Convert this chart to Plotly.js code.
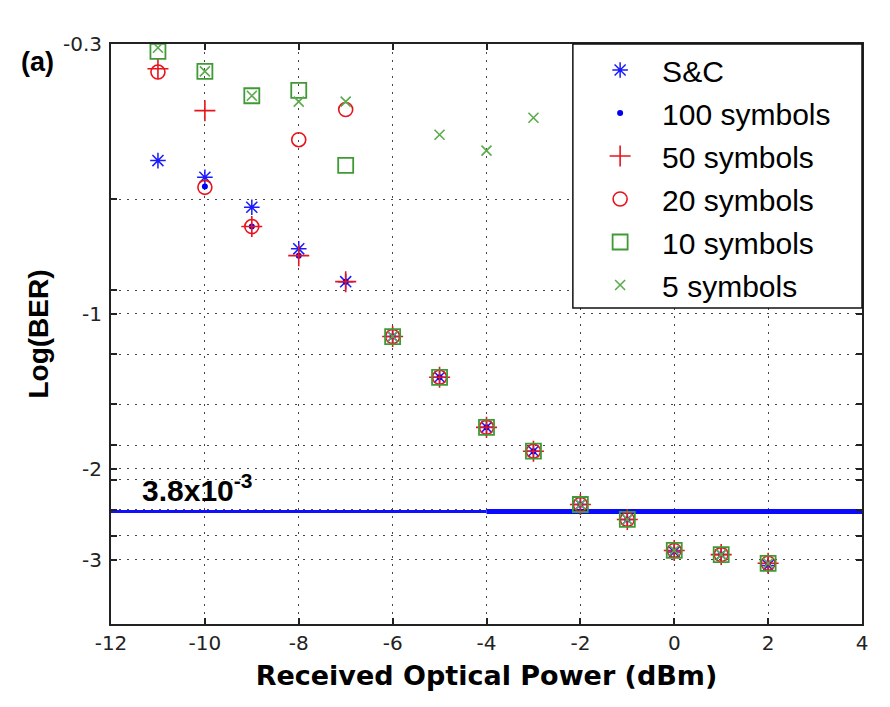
<!DOCTYPE html>
<html>
<head>
<meta charset="utf-8">
<script src="https://cdn.plot.ly/plotly-3.0.1.min.js"></script>
<style>html,body{margin:0;padding:0;background:#fff;}#chart{width:890px;height:707px;}</style>
</head>
<body>
<div id="chart"></div>
<script>
// Received optical power (dBm)
const power = [-11, -10, -9, -8, -7, -6, -5, -4, -3, -2, -1, 0, 1, 2];
// Log(BER) values per scheme (null = not shown)
const sc        = [-0.505, -0.544, -0.622, -0.749, -0.867, -1.108, -1.329, -1.662, -1.849, -2.346, -2.508, -2.90, -2.934, -3.08];
const sym100    = [null,   -0.567, -0.678, -0.772, -0.867, -1.108, -1.329, -1.662, -1.849, -2.346, -2.508, -2.88, -2.934, -3.05];
const sym50     = [-0.335, -0.404, -0.678, -0.772, -0.867, -1.108, -1.329, -1.662, -1.849, -2.346, -2.508, -2.88, -2.934, -3.05];
const sym20     = [-0.340, -0.569, -0.678, -0.460, -0.402, -1.108, -1.329, -1.662, -1.849, -2.346, -2.508, -2.88, -2.934, -3.05];
const sym10     = [-0.310, -0.339, -0.378, -0.369, -0.516, -1.108, -1.329, -1.662, -1.849, -2.346, -2.508, -2.88, -2.934, -3.05];
const sym5      = [-0.305, -0.339, -0.378, -0.388, -0.388, -1.108, -0.450, -0.483, -0.417, -2.346, -2.508, -2.88, -2.934, -3.05];
const seriesNames = ['S&C', '100 symbols', '50 symbols', '20 symbols', '10 symbols', '5 symbols'];
// FEC threshold BER
const thresholdBER = 3.8e-3;
const thresholdLabel = '3.8x10<sup>-3</sup>';
const thresholdX1 = [-12, -4];
const thresholdX2 = [-4, 4];
// y axis ticks (Log(BER))
const yTickVals = [-0.3, -0.6, -0.9, -1, -1.2, -1.5, -1.8, -2, -2.1, -2.4, -2.7, -3];
const yTickText = ['-0.3', '', '', '-1', '', '', '', '-2', '', '', '', '-3'];
const xTickVals = [-12, -10, -8, -6, -4, -2, 0, 2, 4];

const neg = a => a.map(v => v === null ? null : -v);

const styles = [
  {symbol: 'asterisk-open', size: 13, color: '#1a1aff', lw: 1.5},
  {symbol: 'circle', size: 6, color: '#0000ee', lw: 0},
  {symbol: 'cross-thin-open', size: 15, color: '#e8141c', lw: 1.6},
  {symbol: 'circle-open', size: 14, color: '#e8141c', lw: 1.6},
  {symbol: 'square-open', size: 15, color: '#3f9a35', lw: 1.8},
  {symbol: 'x-thin-open', size: 10, color: '#5aab4c', lw: 1.6}
];
const allSeries = [sc, sym100, sym50, sym20, sym10, sym5];

const traces = [];
const thrY = -Math.log10(thresholdBER);
traces.push({x: thresholdX1, y: [thrY, thrY], mode: 'lines', line: {color: '#1010ff', width: 3}, showlegend: false, hoverinfo: 'skip'});
traces.push({x: thresholdX2, y: [thrY, thrY], mode: 'lines', line: {color: '#0a0aff', width: 5}, showlegend: false, hoverinfo: 'skip'});
allSeries.forEach((s, i) => {
  const st = styles[i];
  traces.push({
    x: power, y: neg(s), name: seriesNames[i], mode: 'markers', legendgroup: 'g' + i,
    marker: {symbol: st.symbol, size: st.size, color: st.color, line: {color: st.color, width: st.lw}},
    cliponaxis: false
  });
});

const gridDash = '2px,6px';
const layout = {
  width: 890, height: 707,
  margin: {l: 111, r: 28, t: 44, b: 83},
  paper_bgcolor: '#fff', plot_bgcolor: '#fff',
  font: {family: 'DejaVu Sans, sans-serif', color: '#000'},
  showlegend: true,
  xaxis: {
    range: [-12, 4], tickvals: xTickVals, ticktext: xTickVals.map(String),
    showgrid: true, gridcolor: '#444', gridwidth: 1, griddash: gridDash,
    zeroline: false, showline: true, linecolor: '#222', linewidth: 2, mirror: 'ticks',
    ticks: 'inside', ticklen: 6, tickwidth: 2, tickcolor: '#222',
    tickfont: {family: 'DejaVu Sans', size: 20, color: '#222'},
    title: {text: 'Received Optical Power (dBm)', font: {family: 'DejaVu Sans', size: 27, weight: 'bold', color: '#000'}, standoff: 12}
  },
  yaxis: {
    type: 'log', range: [Math.log10(4.0), Math.log10(0.3)],
    tickvals: neg(yTickVals), ticktext: yTickText,
    showgrid: true, gridcolor: '#444', gridwidth: 1, griddash: gridDash,
    zeroline: false, showline: true, linecolor: '#222', linewidth: 2, mirror: 'ticks',
    ticks: 'inside', ticklen: 6, tickwidth: 2, tickcolor: '#222',
    tickfont: {family: 'DejaVu Sans', size: 20, color: '#222'},
    ticklabelstandoff: 3,
    title: {text: 'Log(BER)', font: {family: 'Liberation Sans, Arial, sans-serif', size: 28, weight: 'bold', color: '#000'}, standoff: 6}
  },
  legend: {
    x: 0.622, xanchor: 'left', y: 1, yanchor: 'top',
    bgcolor: 'rgba(0,0,0,0)', borderwidth: 0,
    font: {family: 'Liberation Sans, Arial, sans-serif', size: 30, color: '#000'},
    itemwidth: 74, traceorder: 'grouped', tracegroupgap: 1
  },
  shapes: [
    {type: 'rect', xref: 'paper', yref: 'paper', x0: 0.615, x1: 1, y0: 0.545, y1: 1,
     fillcolor: '#fff', line: {color: '#111', width: 1.5}, layer: 'above'}
  ],
  annotations: [
    {xref: 'x', yref: 'y', x: -11.38, y: Math.log10(thrY), xanchor: 'left', yanchor: 'bottom', yshift: 3,
     text: thresholdLabel, showarrow: false, font: {family: 'Liberation Sans, Arial, sans-serif', size: 30, weight: 'bold', color: '#000'}},
    {xref: 'paper', yref: 'paper', x: -0.098, y: 1.0, xanchor: 'center', yanchor: 'middle', yshift: -18,
     text: '(a)', showarrow: false, font: {family: 'Liberation Sans, Arial, sans-serif', size: 27, weight: 'bold', color: '#000'}}
  ]
};

Plotly.newPlot('chart', traces, layout, {displayModeBar: false, staticPlot: true});
</script>
</body>
</html>
